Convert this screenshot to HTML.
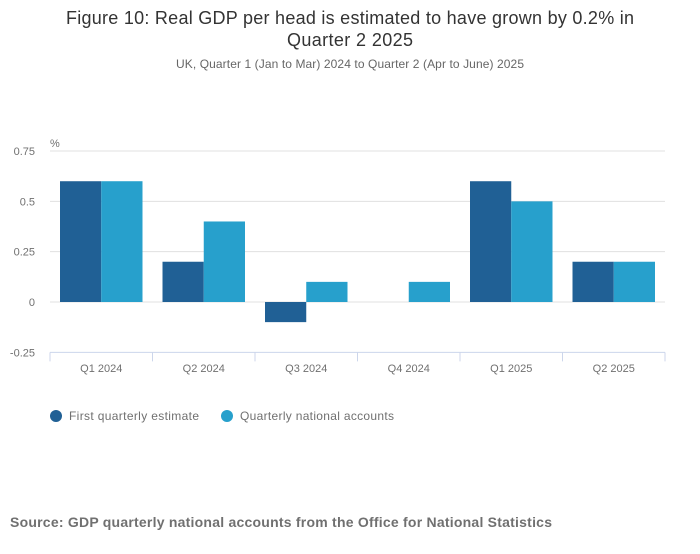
<!DOCTYPE html>
<html><head><meta charset="utf-8"><style>
body{margin:0;background:#fff;font-family:"Liberation Sans",sans-serif;}
svg text{font-family:"Liberation Sans",sans-serif;}
</style></head><body>
<svg width="700" height="549">
<text x="350" y="24" text-anchor="middle" font-size="18" fill="#333" textLength="568">Figure 10: Real GDP per head is estimated to have grown by 0.2% in</text>
<text x="350" y="46" text-anchor="middle" font-size="18" fill="#333" textLength="126">Quarter 2 2025</text>
<text x="350" y="68" text-anchor="middle" font-size="12" fill="#666" textLength="348">UK, Quarter 1 (Jan to Mar) 2024 to Quarter 2 (Apr to June) 2025</text>
<text x="50" y="147" font-size="11" fill="#707070">%</text>
<g id="grid"></g><g id="bars"></g><g id="axis"></g>
<circle cx="56" cy="416" r="6" fill="#206095"/>
<text x="69" y="420" font-size="12" fill="#707070" textLength="130">First quarterly estimate</text>
<circle cx="227" cy="416" r="6" fill="#27a0cc"/>
<text x="240" y="420" font-size="12" fill="#707070" textLength="154">Quarterly national accounts</text>
<text x="10" y="527" font-size="14" font-weight="bold" fill="#707070" textLength="542">Source: GDP quarterly national accounts from the Office for National Statistics</text>
</svg>
<script>
const categories=["Q1 2024","Q2 2024","Q3 2024","Q4 2024","Q1 2025","Q2 2025"];
const firstEstimate=[0.6,0.2,-0.1,null,0.6,0.2];
const qna=[0.6,0.4,0.1,0.1,0.5,0.2];
const yTicks=[0.75,0.5,0.25,0,-0.25];
const yTickLabels=["0.75","0.5","0.25","0","-0.25"];
const NS="http://www.w3.org/2000/svg";
const x0=50,x1=665,yZero=302,pxPerUnit=201.3;
const y=v=>yZero-v*pxPerUnit;
const bw=(x1-x0)/categories.length;
function mk(t,a,p){const e=document.createElementNS(NS,t);for(const k in a)e.setAttribute(k,a[k]);p.appendChild(e);return e;}
const g=document.getElementById('grid'),b=document.getElementById('bars'),ax=document.getElementById('axis');
yTicks.forEach((v,i)=>{
 if(v>-0.25){const l=mk('line',{x1:x0,x2:x1,y1:y(v),y2:y(v),stroke:'#e0e0e0'},g);
 
 }
 const t=mk('text',{x:35,y:y(v)+4,'text-anchor':'end','font-size':11,fill:'#707070'},g);t.textContent=yTickLabels[i];
 
 
});
categories.forEach((c,i)=>{
 const cx=x0+i*bw, w=(bw-20)/2;
 [[firstEstimate[i],'#206095',0],[qna[i],'#27a0cc',1]].forEach(([v,col,k])=>{
  if(v===null)return;
  const r=mk('rect',{x:cx+10+k*w,y:Math.min(y(v),yZero),width:w,height:Math.abs(y(v)-yZero),fill:col},b);
  
  
 });
 const t=mk('text',{x:cx+bw/2,y:372,'text-anchor':'middle','font-size':11,fill:'#707070'},ax);t.textContent=c;
 
 
});
const yb=y(-0.25);
const al=mk('line',{x1:x0,x2:x1,y1:yb,y2:yb,stroke:'#ccd6eb'},ax);


for(let i=0;i<=categories.length;i++){const xx=x0+i*bw;const tk=mk('line',{x1:xx,x2:xx,y1:yb,y2:yb+9,stroke:'#ccd6eb'},ax);
 
 }
</script>
</body></html>
